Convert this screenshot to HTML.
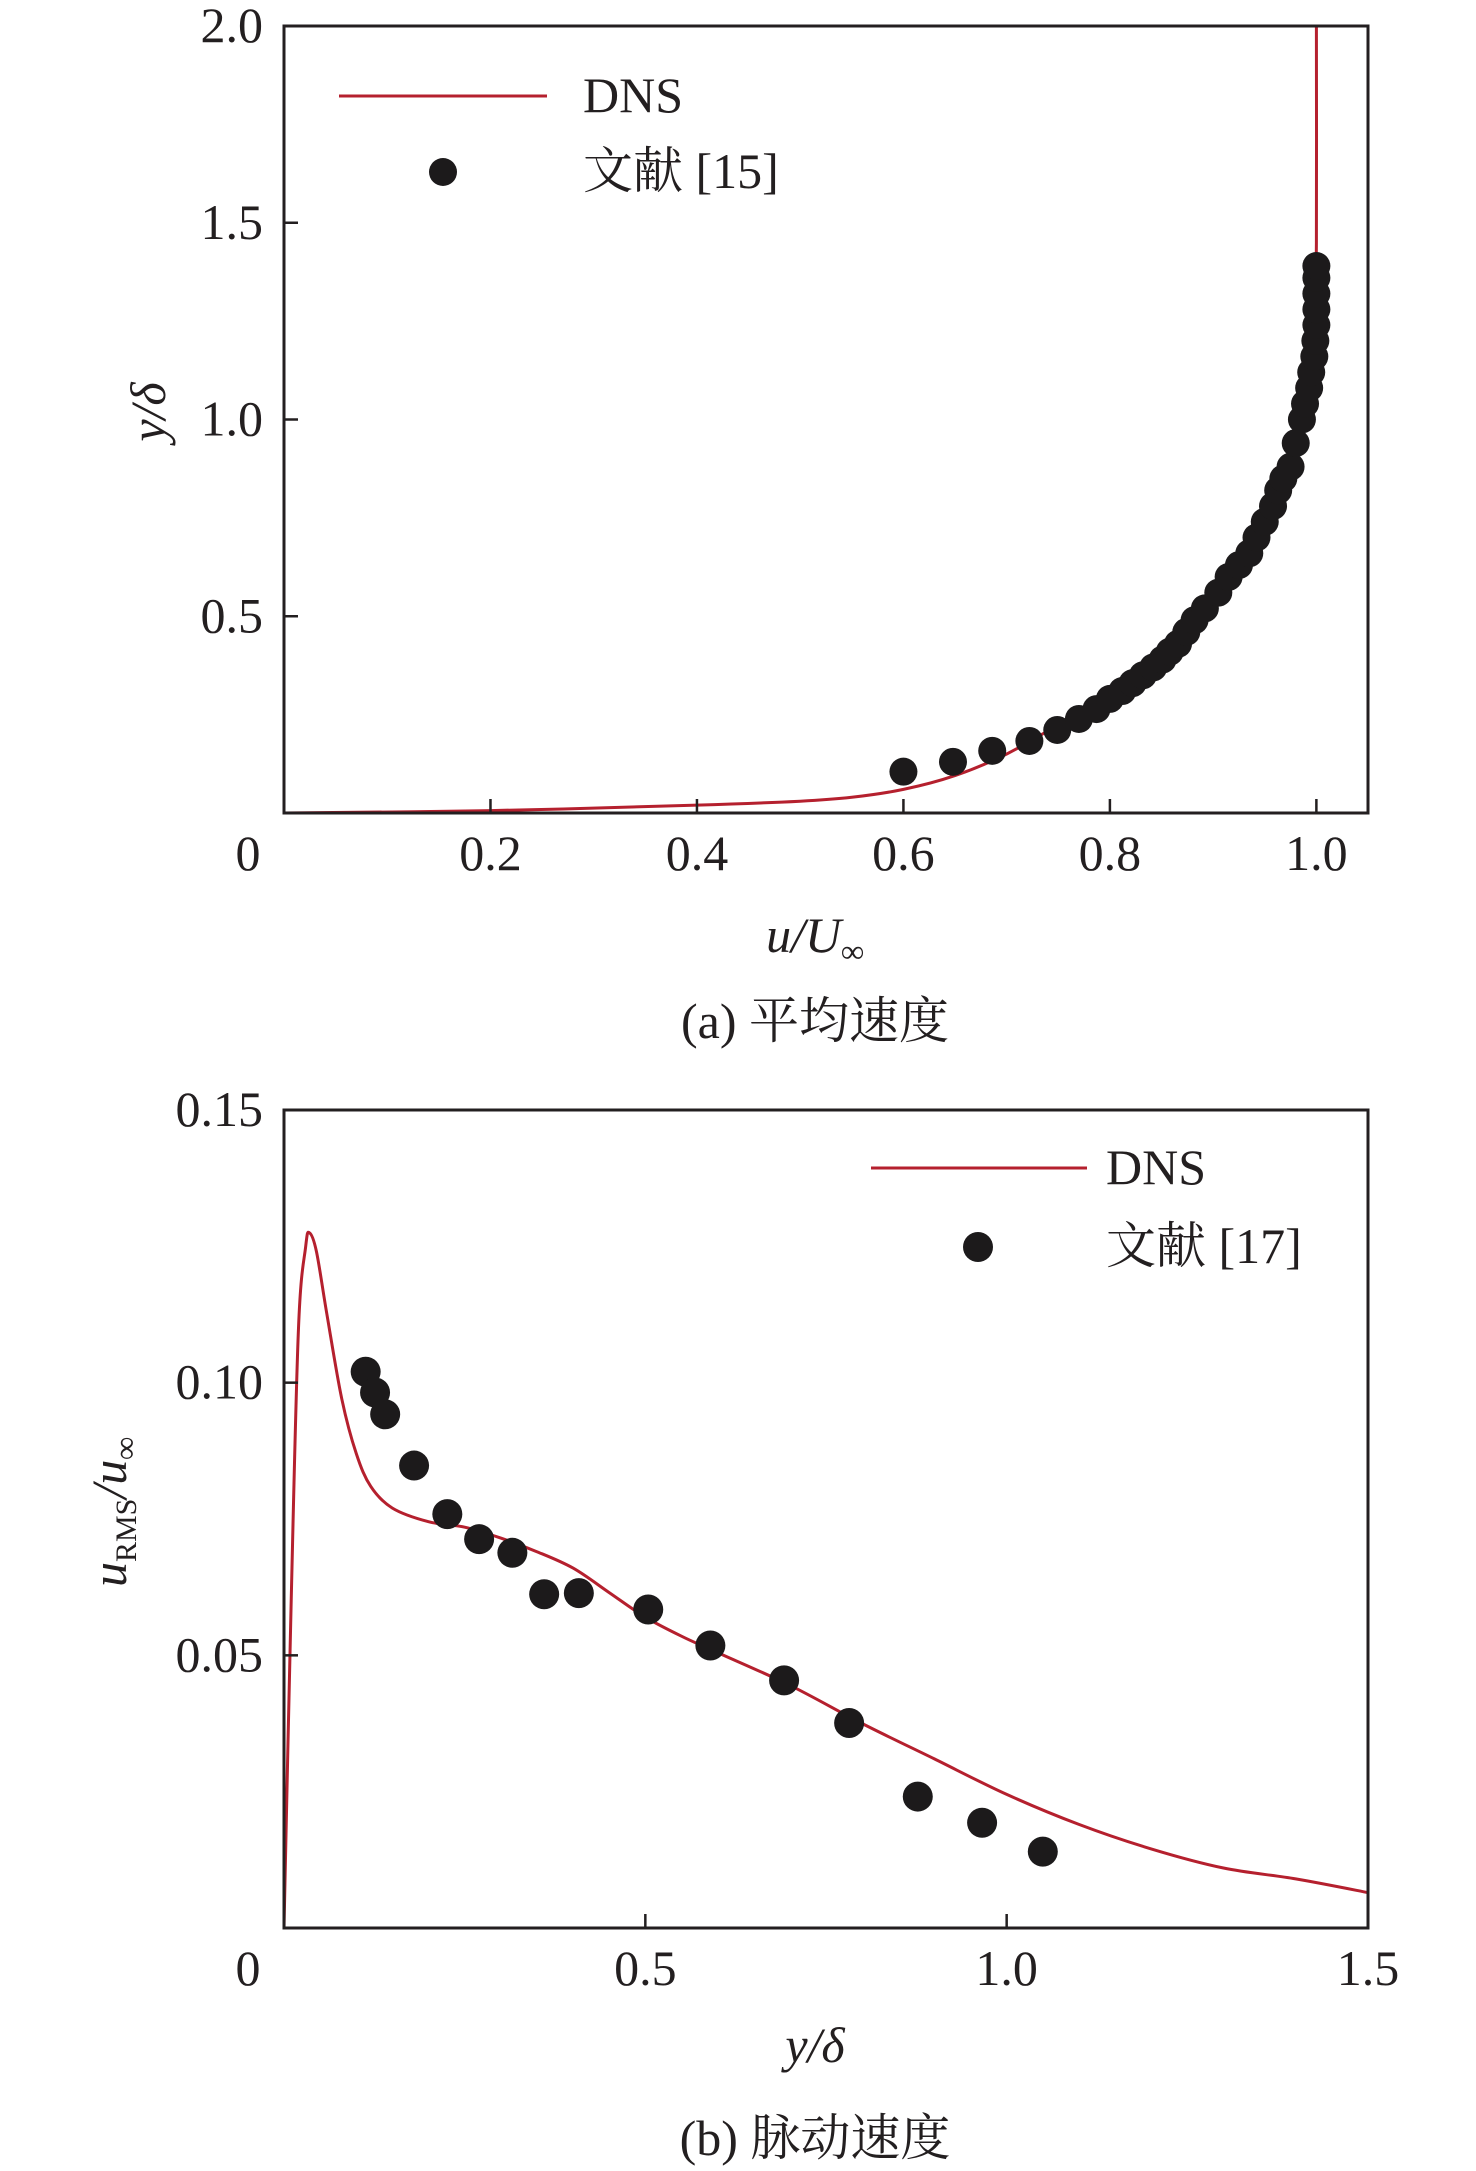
<!DOCTYPE html>
<html><head><meta charset="utf-8"><style>
html,body{margin:0;padding:0;background:#fff;}
svg{display:block;}
text{font-family:"Liberation Serif","Noto Serif CJK SC",serif;fill:#231f20;}
</style></head><body>
<svg id="chart" width="1476" height="2171" viewBox="0 0 1476 2171" xmlns="http://www.w3.org/2000/svg">
<g id="ga"></g>
<g id="gb"></g>
</svg>
<script>
// Chart (a)
const aXTicks = [0, 0.2, 0.4, 0.6, 0.8, 1.0];
const aXTickLabels = ["0", "0.2", "0.4", "0.6", "0.8", "1.0"];
const aYTicks = [0.5, 1.0, 1.5, 2.0];
const aYTickLabels = ["0.5", "1.0", "1.5", "2.0"];
const aDnsU = [0, 0.2, 0.4, 0.5, 0.55, 0.6, 0.65, 0.7, 0.75, 0.8, 0.85, 0.88, 0.92, 0.95, 0.97, 0.99, 0.998, 1.0, 1.0];
const aDnsY = [0, 0.006, 0.02, 0.03, 0.04, 0.06, 0.095, 0.15, 0.225, 0.31, 0.415, 0.49, 0.61, 0.75, 0.88, 1.08, 1.3, 1.45, 2.0];
const aRefU = [0.600,0.648,0.686,0.722,0.749,0.770,0.787,0.800,0.812,0.822,0.832,0.842,0.851,0.858,0.866,0.874,0.882,0.892,0.905,0.915,0.925,0.935,0.942,0.950,0.958,0.963,0.968,0.975,0.980,0.986,0.989,0.993,0.995,0.998,0.999,1.0,1.0,1.0,1.0,1.0];
const aRefY = [0.105,0.13,0.158,0.183,0.211,0.239,0.264,0.29,0.31,0.33,0.35,0.37,0.39,0.41,0.43,0.46,0.49,0.52,0.56,0.60,0.63,0.66,0.70,0.74,0.78,0.82,0.85,0.88,0.94,1.0,1.04,1.08,1.12,1.16,1.2,1.24,1.28,1.32,1.36,1.39];
// Chart (b)
const bXTicks = [0, 0.5, 1.0, 1.5];
const bXTickLabels = ["0", "0.5", "1.0", "1.5"];
const bYTicks = [0.05, 0.10, 0.15];
const bYTickLabels = ["0.05", "0.10", "0.15"];
const bDnsX = [0,0.01,0.02,0.03,0.035,0.045,0.06,0.08,0.1,0.12,0.15,0.2,0.25,0.3,0.35,0.4,0.45,0.5,0.55,0.6,0.7,0.8,0.9,1.0,1.1,1.2,1.3,1.4,1.5];
const bDnsY = [0,0.06,0.11,0.125,0.1275,0.124,0.112,0.097,0.087,0.081,0.077,0.0745,0.0735,0.0715,0.069,0.066,0.0615,0.057,0.0535,0.0505,0.0445,0.0375,0.031,0.0245,0.019,0.0145,0.011,0.009,0.0065];
const bRefX = [0.113,0.126,0.140,0.180,0.226,0.270,0.316,0.360,0.408,0.504,0.590,0.692,0.782,0.877,0.966,1.050];
const bRefY = [0.102,0.0982,0.0942,0.0848,0.0759,0.0713,0.0688,0.0612,0.0614,0.0584,0.0518,0.0454,0.0376,0.0241,0.0193,0.0140];

const NS = "http://www.w3.org/2000/svg";
const RED = "#b5202e";
function mk(parent, tag, attrs, txt) {
  const el = document.createElementNS(NS, tag);
  for (const k in attrs) el.setAttribute(k, attrs[k]);
  if (txt !== undefined) el.textContent = txt;
  parent.appendChild(el);
  return el;
}
function smoothPath(pts) {
  let d = "M" + pts[0][0].toFixed(1) + " " + pts[0][1].toFixed(1);
  for (let i = 0; i < pts.length - 1; i++) {
    const p0 = pts[Math.max(0, i - 1)], p1 = pts[i], p2 = pts[i + 1], p3 = pts[Math.min(pts.length - 1, i + 2)];
    const c1x = p1[0] + (p2[0] - p0[0]) / 6, c1y = p1[1] + (p2[1] - p0[1]) / 6;
    const c2x = p2[0] - (p3[0] - p1[0]) / 6, c2y = p2[1] - (p3[1] - p1[1]) / 6;
    d += "C" + c1x.toFixed(1) + " " + c1y.toFixed(1) + " " + c2x.toFixed(1) + " " + c2y.toFixed(1) + " " + p2[0].toFixed(1) + " " + p2[1].toFixed(1);
  }
  return d;
}
function drawChart(g, cfg) {
  const L = 284, R = 1368, T = cfg.top, B = cfg.bottom;
  const sx = v => L + (v - cfg.xmin) / (cfg.xmax - cfg.xmin) * (R - L);
  const sy = v => B - (v - cfg.ymin) / (cfg.ymax - cfg.ymin) * (B - T);
  const pts = cfg.lx.map((v, i) => [sx(v), sy(cfg.ly[i])]);
  const line = mk(g, "path", {d: smoothPath(pts), fill: "none", stroke: RED, "stroke-width": 3, "stroke-linejoin": "round"});
  
  
  for (let i = 0; i < cfg.px.length; i++) {
    const c = mk(g, "circle", {cx: sx(cfg.px[i]), cy: sy(cfg.py[i]), r: cfg.r, fill: "#1c1a1b"});
    
    
  }
  const fr = mk(g, "rect", {x: L, y: T, width: R - L, height: B - T, fill: "none", stroke: "#231f20", "stroke-width": 3});
  
  
  cfg.xt.forEach((v, i) => {
    const x = sx(v);
    if (v > cfg.xmin && v < cfg.xmax) {
      const t = mk(g, "line", {x1: x, x2: x, y1: B, y2: B - 14, stroke: "#231f20", "stroke-width": 2.5});
      
      
    }
    const lx = (v === cfg.xmin) ? x - 36 : x;
    const lb = mk(g, "text", {x: lx, y: B + 57, "font-size": 50, "text-anchor": "middle"}, cfg.xtl[i]);
    
    
  });
  cfg.yt.forEach((v, i) => {
    const y = sy(v);
    if (v < cfg.ymax) {
      const t = mk(g, "line", {x1: L, x2: L + 14, y1: y, y2: y, stroke: "#231f20", "stroke-width": 2.5});
      
      
    }
    const lb = mk(g, "text", {x: 263, y: y + 16, "font-size": 50, "text-anchor": "end"}, cfg.ytl[i]);
    
    
  });
}
const ga = document.getElementById("ga"), gb = document.getElementById("gb");
drawChart(ga, {top: 26, bottom: 813, xmin: 0, xmax: 1.05, ymin: 0, ymax: 2.0, lx: aDnsU, ly: aDnsY, px: aRefU, py: aRefY, r: 14, xt: aXTicks, xtl: aXTickLabels, yt: aYTicks, ytl: aYTickLabels});
drawChart(gb, {top: 1110, bottom: 1928, xmin: 0, xmax: 1.5, ymin: 0, ymax: 0.15, lx: bDnsX, ly: bDnsY, px: bRefX, py: bRefY, r: 15, xt: bXTicks, xtl: bXTickLabels, yt: bYTicks, ytl: bYTickLabels});
</script>
<div style="position:absolute;left:0;top:0;width:1476px;height:2171px;pointer-events:none;">
<svg width="1476" height="2171" xmlns="http://www.w3.org/2000/svg">
<style>text{font-family:"Liberation Serif","Noto Serif CJK SC",serif;fill:#231f20;}</style>
<line x1="339" y1="96" x2="547" y2="96" stroke="#b5202e" stroke-width="3"/>
<text x="583" y="112" font-size="50">DNS</text>
<circle cx="443" cy="172" r="14" fill="#1c1a1b"/>
<text x="583" y="188" font-size="50">文献 [15]</text>
<text transform="translate(165,412) rotate(-90)" font-size="50" font-style="italic" text-anchor="middle">y/δ</text>
<text x="815" y="952" font-size="50" font-style="italic" text-anchor="middle">u/U<tspan font-size="32" dy="10">∞</tspan></text>
<text x="815" y="1038" font-size="50" text-anchor="middle">(a) 平均速度</text>
<line x1="871" y1="1168" x2="1087" y2="1168" stroke="#b5202e" stroke-width="3"/>
<text x="1106" y="1184" font-size="50">DNS</text>
<circle cx="978" cy="1247" r="15" fill="#1c1a1b"/>
<text x="1106" y="1263" font-size="50">文献 [17]</text>
<text transform="translate(126,1512) rotate(-90)" font-size="50" font-style="italic" text-anchor="middle">u<tspan font-size="30" font-style="normal" dy="10">RMS</tspan><tspan dy="-10">/u</tspan><tspan font-size="32" dy="10">∞</tspan></text>
<text x="815" y="2062" font-size="50" font-style="italic" text-anchor="middle">y/δ</text>
<text x="815" y="2155" font-size="50" text-anchor="middle">(b) 脉动速度</text>
</svg>
</div>
</body></html>
